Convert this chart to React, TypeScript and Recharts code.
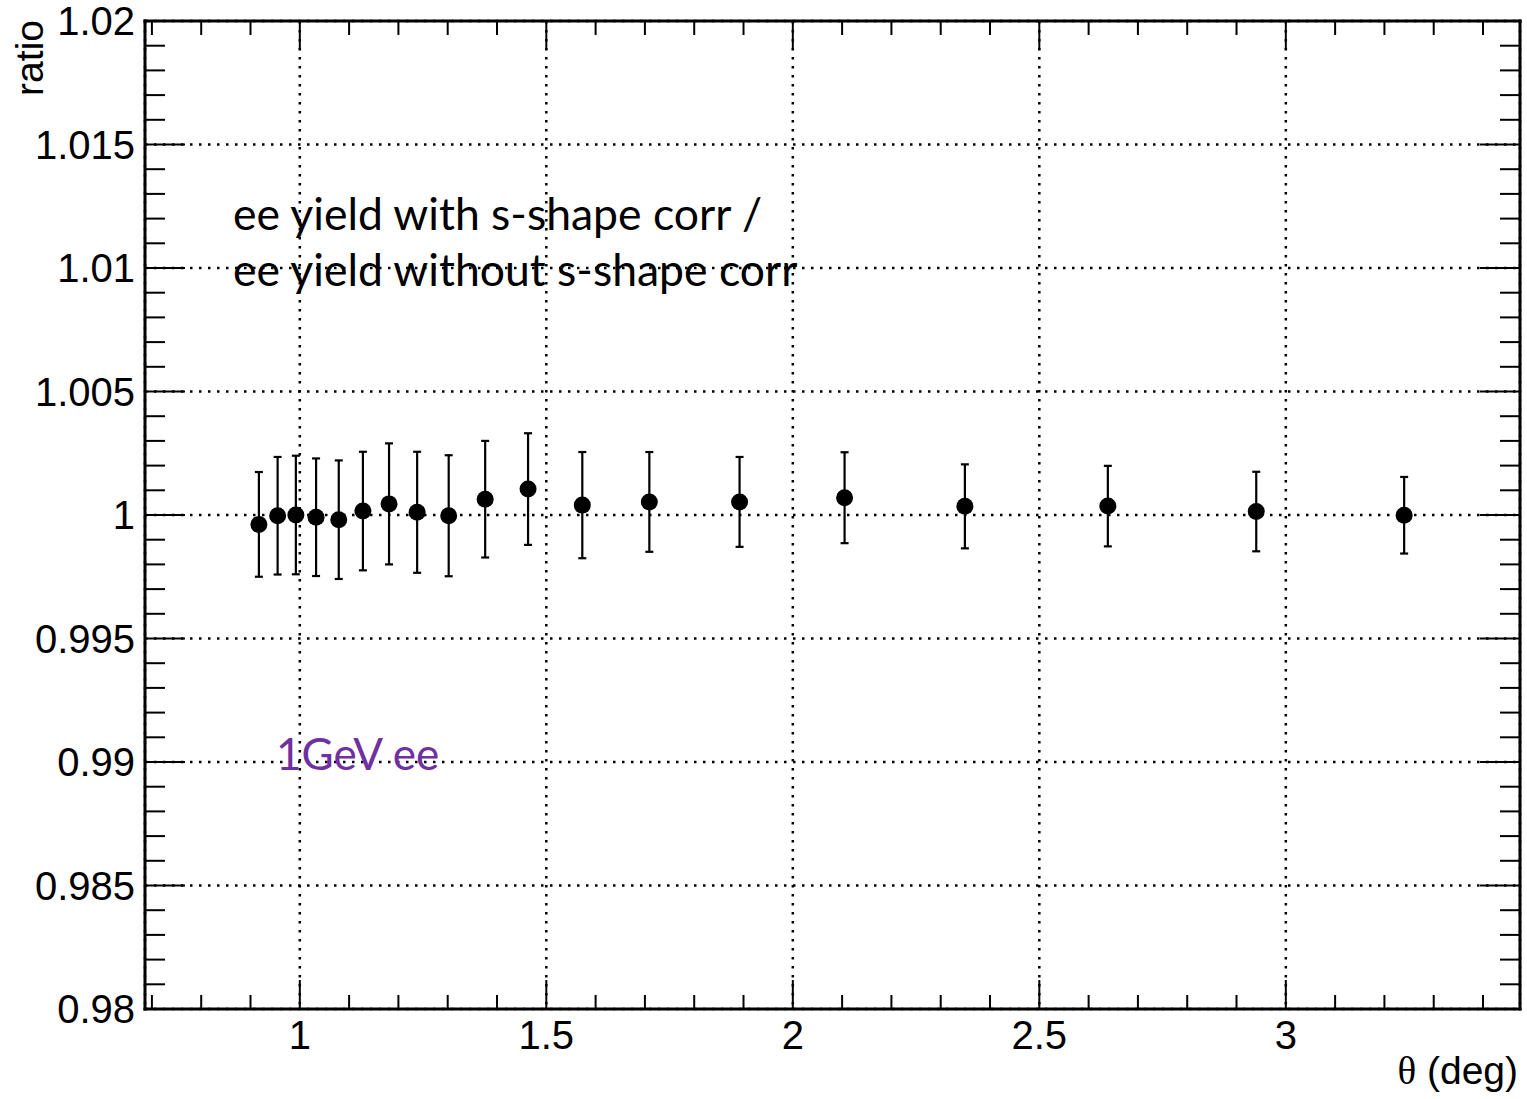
import React from 'react';
import { ScatterChart, Scatter, XAxis, YAxis, CartesianGrid, ErrorBar } from 'recharts';

const thetaValues = [0.917, 0.955, 0.992, 1.033, 1.079, 1.128, 1.181, 1.238, 1.302, 1.376, 1.463, 1.573, 1.709, 1.892, 2.105, 2.349, 2.639, 2.94, 3.24];
const ratioValues = [0.99962, 0.99997, 1.0, 0.99991, 0.99981, 1.00016, 1.00045, 1.00011, 0.99997, 1.00064, 1.00105, 1.0004, 1.00053, 1.00053, 1.0007, 1.00035, 1.00036, 1.00014, 0.99999];
const ratioErrors = [0.00212, 0.00238, 0.0024, 0.00238, 0.0024, 0.0024, 0.00245, 0.00245, 0.00245, 0.00236, 0.00226, 0.00215, 0.00202, 0.00182, 0.00184, 0.0017, 0.00163, 0.00161, 0.00155];

const xMajorTicks = [1, 1.5, 2, 2.5, 3];
const xMinorTicks = [0.7, 0.8, 0.9, 1.1, 1.2, 1.3, 1.4, 1.6, 1.7, 1.8, 1.9, 2.1, 2.2, 2.3, 2.4, 2.6, 2.7, 2.8, 2.9, 3.1, 3.2, 3.3, 3.4];
const yMajorTicks = [0.98, 0.985, 0.99, 0.995, 1, 1.005, 1.01, 1.015, 1.02];
const yMinorTicks = [
  0.981, 0.982, 0.983, 0.984, 0.986, 0.987, 0.988, 0.989,
  0.991, 0.992, 0.993, 0.994, 0.996, 0.997, 0.998, 0.999,
  1.001, 1.002, 1.003, 1.004, 1.006, 1.007, 1.008, 1.009,
  1.011, 1.012, 1.013, 1.014, 1.016, 1.017, 1.018, 1.019,
];

const xDomain = [0.686, 3.475];
const yDomain = [0.98, 1.02];

const noteLine1 = 'ee yield with s-shape corr /';
const noteLine2 = 'ee yield without s-shape corr';
const energyLabel = '1GeV ee';
const xTitle = '(deg)';
const yTitle = 'ratio';

const data = thetaValues.map((t, i) => ({ theta: t, ratio: ratioValues[i], err: ratioErrors[i] }));

const axisLineStyle = { stroke: '#000', strokeWidth: 3, strokeLinecap: 'square' as const };
const tickLineStyle = { stroke: '#000', strokeWidth: 2 };
const labelFont = { fill: '#000', fontSize: 40, fontFamily: 'Liberation Sans, Arial, sans-serif' };

const NoLabel = () => <g />;

const Dot = (props: any) => {
  const { cx, cy } = props;
  if (cx == null || cy == null) return null;
  return <circle cx={cx} cy={cy} r={8.5} fill="#000" />;
};

export default function App() {
  return (
    <div style={{ position: 'absolute', left: 0, top: 0, width: 1527, height: 1099, background: '#fff' }}>
      <ScatterChart width={1527} height={1099} margin={{ top: 0, right: 0, bottom: 0, left: 0 }}>
        <CartesianGrid
          xAxisId="xb"
          yAxisId="yl"
          stroke="#000"
          strokeDasharray="2.5 6.5"
          strokeWidth={2.5}
        />
        {/* bottom axes */}
        <XAxis
          xAxisId="xb"
          type="number"
          dataKey="theta"
          domain={xDomain}
          allowDataOverflow
          ticks={xMajorTicks}
          interval={0}
          height={90}
          tickSize={-29}
          tickMargin={41}
          axisLine={axisLineStyle}
          tickLine={tickLineStyle}
          tick={labelFont}
        />
        <XAxis
          xAxisId="xbm"
          type="number"
          dataKey="theta"
          mirror
          domain={xDomain}
          allowDataOverflow
          ticks={xMinorTicks}
          interval={0}
          minTickGap={0}
          height={1}
          tickSize={14}
          axisLine={false}
          tickLine={tickLineStyle}
          tick={NoLabel}
        />
        {/* top axes */}
        <XAxis
          xAxisId="xt"
          orientation="top"
          type="number"
          dataKey="theta"
          domain={xDomain}
          allowDataOverflow
          ticks={xMajorTicks}
          interval={0}
          minTickGap={0}
          height={21}
          tickSize={-29}
          axisLine={axisLineStyle}
          tickLine={tickLineStyle}
          tick={NoLabel}
        />
        <XAxis
          xAxisId="xtm"
          orientation="top"
          mirror
          type="number"
          dataKey="theta"
          domain={xDomain}
          allowDataOverflow
          ticks={xMinorTicks}
          interval={0}
          minTickGap={0}
          height={1}
          tickSize={14}
          axisLine={false}
          tickLine={tickLineStyle}
          tick={NoLabel}
        />
        {/* left axes */}
        <YAxis
          yAxisId="yl"
          type="number"
          dataKey="ratio"
          domain={yDomain}
          allowDataOverflow
          ticks={yMajorTicks}
          interval={0}
          width={145}
          tickSize={-40}
          tickMargin={50}
          axisLine={axisLineStyle}
          tickLine={tickLineStyle}
          tick={labelFont}
        />
        <YAxis
          yAxisId="ylm"
          mirror
          type="number"
          domain={yDomain}
          allowDataOverflow
          ticks={yMinorTicks}
          interval={0}
          width={1}
          tickSize={20}
          axisLine={false}
          tickLine={tickLineStyle}
          tick={NoLabel}
        />
        {/* right axes */}
        <YAxis
          yAxisId="yr"
          orientation="right"
          type="number"
          domain={yDomain}
          allowDataOverflow
          ticks={yMajorTicks}
          interval={0}
          width={7}
          tickSize={-40}
          axisLine={axisLineStyle}
          tickLine={tickLineStyle}
          tick={NoLabel}
        />
        <YAxis
          yAxisId="yrm"
          orientation="right"
          mirror
          type="number"
          domain={yDomain}
          allowDataOverflow
          ticks={yMinorTicks}
          interval={0}
          width={1}
          tickSize={20}
          axisLine={false}
          tickLine={tickLineStyle}
          tick={NoLabel}
        />
        <Scatter
          data={data}
          xAxisId="xb"
          yAxisId="yl"
          dataKey="ratio"
          fill="#000"
          shape={Dot}
          isAnimationActive={false}
        >
          <ErrorBar dataKey="err" direction="y" width={4} stroke="#000" strokeWidth={2.2} isAnimationActive={false} />
        </Scatter>
        <text x={233} y={230} fontFamily="Lato, sans-serif" fontSize={44.5} fill="#000">{noteLine1}</text>
        <text x={233} y={286} fontFamily="Lato, sans-serif" fontSize={44.5} fill="#000">{noteLine2}</text>
        <text x={276} y={770} fontFamily="Lato, sans-serif" fontSize={44} fill="#7030A0">{energyLabel}</text>
        <text x={1518} y={1084} textAnchor="end" fontFamily="Liberation Sans, Arial, sans-serif" fontSize={39} fill="#000">
          <tspan fontFamily="Liberation Serif, serif">θ</tspan>
          <tspan> {xTitle}</tspan>
        </text>
        <text
          x={43}
          y={20}
          transform="rotate(-90 43 20)"
          textAnchor="end"
          fontFamily="Liberation Sans, Arial, sans-serif"
          fontSize={39}
          fill="#000"
        >
          {yTitle}
        </text>
      </ScatterChart>
    </div>
  );
}
